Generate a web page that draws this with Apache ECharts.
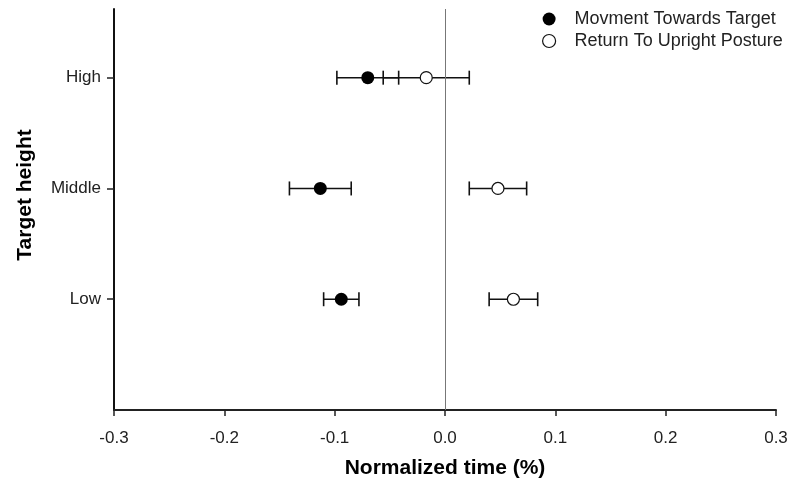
<!DOCTYPE html>
<html>
<head>
<meta charset="utf-8">
<script src="https://cdn.jsdelivr.net/npm/echarts@6/dist/echarts.min.js"></script>
<style>html,body{margin:0;padding:0;background:#fff}#c{width:800px;height:487px}</style>
</head>
<body>
<div id="c"></div>
<script>
var categories = ['Low', 'Middle', 'High'];
var categoryPos = [1, 2, 3];
var towardMean = [-0.094, -0.113, -0.070];
var towardErr = [0.016, 0.028, 0.028];
var returnMean = [0.062, 0.048, -0.017];
var returnErr = [0.022, 0.026, 0.039];
var xTicks = [-0.3, -0.2, -0.1, 0.0, 0.1, 0.2, 0.3];
var seriesNames = ['Movment Towards Target', 'Return To Upright Posture'];

var FONT = "'Liberation Sans', Arial, sans-serif";

function errData(mean, err) {
  return mean.map(function (m, i) { return [m - err[i], m + err[i], categoryPos[i]]; });
}
function ptData(mean) {
  return mean.map(function (m, i) { return [m, categoryPos[i]]; });
}
function renderErr(params, api) {
  var lo = api.coord([api.value(0), api.value(2)]);
  var hi = api.coord([api.value(1), api.value(2)]);
  var h = 7;
  var st = { stroke: '#111', lineWidth: 1.6 };
  return {
    type: 'group',
    children: [
      { type: 'line', shape: { x1: lo[0], y1: lo[1], x2: hi[0], y2: hi[1] }, style: st },
      { type: 'line', shape: { x1: lo[0], y1: lo[1] - h, x2: lo[0], y2: lo[1] + h }, style: st },
      { type: 'line', shape: { x1: hi[0], y1: hi[1] - h, x2: hi[0], y2: hi[1] + h }, style: st }
    ]
  };
}

var chart = echarts.init(document.getElementById('c'), null, { renderer: 'canvas' });
chart.setOption({
  animation: false,
  backgroundColor: '#fff',
  textStyle: { fontFamily: FONT },
  grid: { left: 114, right: 24, top: 9, bottom: 77 },
  legend: {
    orient: 'vertical',
    left: 537,
    top: 5,
    itemWidth: 13,
    itemHeight: 13,
    itemGap: 4,
    icon: 'circle',
    textStyle: { fontFamily: FONT, fontSize: 18, color: '#222', padding: [0, 0, 0, 14] },
    data: [
      { name: seriesNames[0], itemStyle: { color: '#000', borderWidth: 0 } },
      { name: seriesNames[1], itemStyle: { color: '#fff', borderColor: '#111', borderWidth: 1.2 } }
    ]
  },
  xAxis: {
    type: 'value',
    min: -0.3,
    max: 0.3,
    interval: 0.1,
    name: 'Normalized time (%)',
    nameLocation: 'middle',
    nameGap: 48,
    nameTextStyle: { fontFamily: FONT, fontSize: 21, fontWeight: 'bold', color: '#000' },
    axisLine: { show: true, onZero: false, lineStyle: { color: '#222', width: 2 } },
    axisTick: { show: true, length: 6, lineStyle: { color: '#222', width: 1.5 } },
    axisLabel: {
      fontSize: 17, color: '#222', margin: 20, fontFamily: FONT,
      formatter: function (v) { return v.toFixed(1); }
    },
    splitLine: { show: false }
  },
  yAxis: {
    type: 'value',
    min: 0,
    max: 3.62,
    axisLine: { show: true, onZero: false, lineStyle: { color: '#111', width: 2 } },
    axisTick: { show: true, length: 7, customValues: categoryPos, lineStyle: { color: '#222', width: 1.5 } },
    axisLabel: {
      fontSize: 17, color: '#222', margin: 13, fontFamily: FONT,
      customValues: categoryPos,
      formatter: function (v) { var i = categoryPos.indexOf(Math.round(v)); return i >= 0 ? categories[i] : ''; }
    },
    splitLine: { show: false }
  },
  graphic: [{
    type: 'text',
    x: 25, y: 195,
    rotation: Math.PI / 2,
    style: { text: 'Target height', font: 'bold 21px ' + FONT, fill: '#000', textAlign: 'center', textVerticalAlign: 'middle' }
  }],
  series: [
    {
      type: 'custom',
      name: 'zero',
      silent: true,
      renderItem: function () { return null; },
      data: [],
      z: 1,
      markLine: {
        silent: true,
        symbol: ['none', 'none'],
        label: { show: false },
        lineStyle: { color: '#777', width: 1, type: 'solid' },
        data: [{ xAxis: 0 }]
      }
    },
    { type: 'custom', name: 'errA', renderItem: renderErr, data: errData(towardMean, towardErr), z: 2 },
    { type: 'custom', name: 'errB', renderItem: renderErr, data: errData(returnMean, returnErr), z: 2 },
    {
      type: 'scatter', name: seriesNames[0], data: ptData(towardMean),
      symbol: 'circle', symbolSize: 13, z: 5,
      itemStyle: { color: '#000', opacity: 1 }
    },
    {
      type: 'scatter', name: seriesNames[1], data: ptData(returnMean),
      symbol: 'circle', symbolSize: 12, z: 5,
      itemStyle: { color: '#fff', borderColor: '#111', borderWidth: 1.2, opacity: 1 }
    }
  ]
});
</script>
</body>
</html>
